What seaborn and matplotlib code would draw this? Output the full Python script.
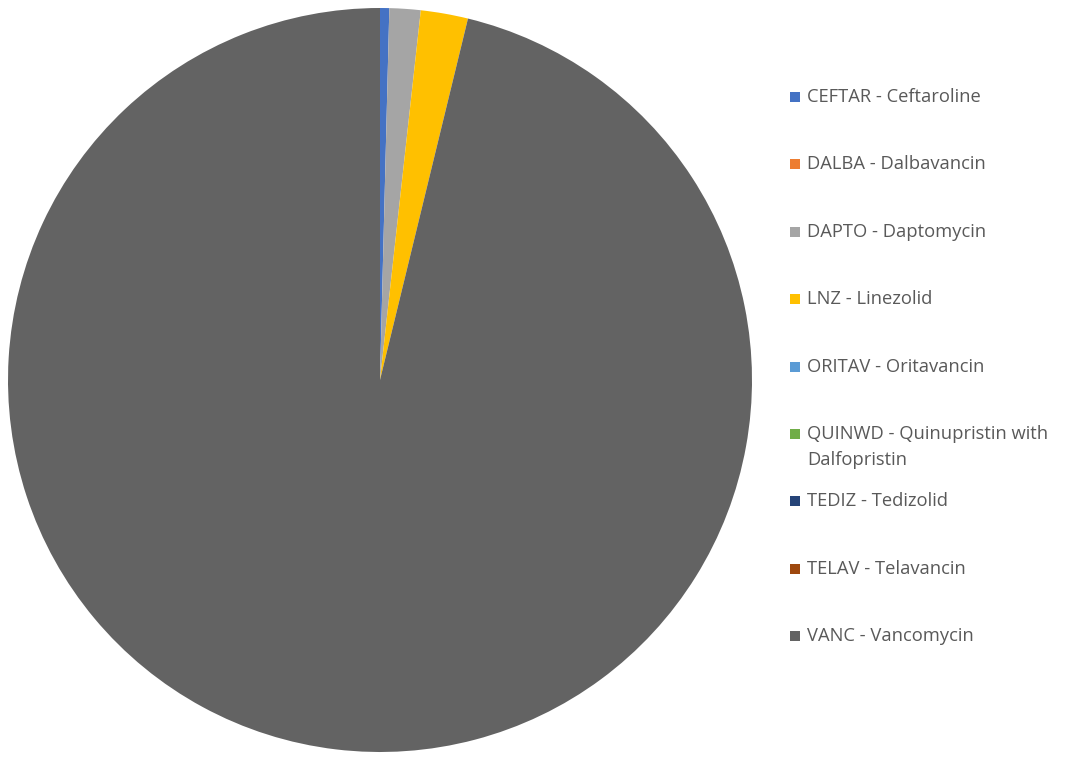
import matplotlib
matplotlib.use("Agg")
import matplotlib.pyplot as plt
from matplotlib.patches import Rectangle
import seaborn as sns

# Share of MRSA-active antibiotic use (percent)
labels = [
    "CEFTAR - Ceftaroline",
    "DALBA - Dalbavancin",
    "DAPTO - Daptomycin",
    "LNZ - Linezolid",
    "ORITAV - Oritavancin",
    "QUINWD - Quinupristin with\nDalfopristin",
    "TEDIZ - Tedizolid",
    "TELAV - Telavancin",
    "VANC - Vancomycin",
]
shares = [0.4, 0.0, 1.35, 2.05, 0.0, 0.0, 0.0, 0.0, 96.2]
colors = ["#4472C4", "#ED7D31", "#A5A5A5", "#FFC000", "#5B9BD5",
          "#70AD47", "#264478", "#9E480E", "#636363"]

sns.set_theme(style="white")
plt.rcParams["font.family"] = ["Open Sans", "DejaVu Sans"]

W, H = 1068, 759
fig = plt.figure(figsize=(W / 100, H / 100), dpi=100)
fig.patch.set_facecolor("white")

# Pie occupies the left part of the figure
cx, cy, r = 380, 380, 372
ax = fig.add_axes([(cx - r) / W, (H - cy - r) / H, 2 * r / W, 2 * r / H])
ax.pie(shares, colors=colors, startangle=90, counterclock=False,
       radius=1.0, wedgeprops=dict(linewidth=0))
ax.set_xlim(-1, 1)
ax.set_ylim(-1, 1)
ax.set_aspect("equal")
ax.axis("off")

# Legend on the right, one entry per row
y0, step = 97, 67.4
fs = 13.2
for i, (lab, col) in enumerate(zip(labels, colors)):
    y = y0 + i * step
    fig.patches.append(Rectangle((790 / W, (H - y - 5) / H), 10 / W, 10 / H,
                                 transform=fig.transFigure, facecolor=col,
                                 edgecolor="none"))
    first, *rest = lab.split("\n")
    fig.text(807 / W, (H - y) / H, first, fontsize=fs, color="#595959",
             va="center", ha="left")
    for j, extra in enumerate(rest, start=1):
        fig.text(807 / W, (H - y - 26 * j) / H, extra, fontsize=fs,
                 color="#595959", va="center", ha="left")

fig.savefig("out.png", dpi=100, facecolor="white")
